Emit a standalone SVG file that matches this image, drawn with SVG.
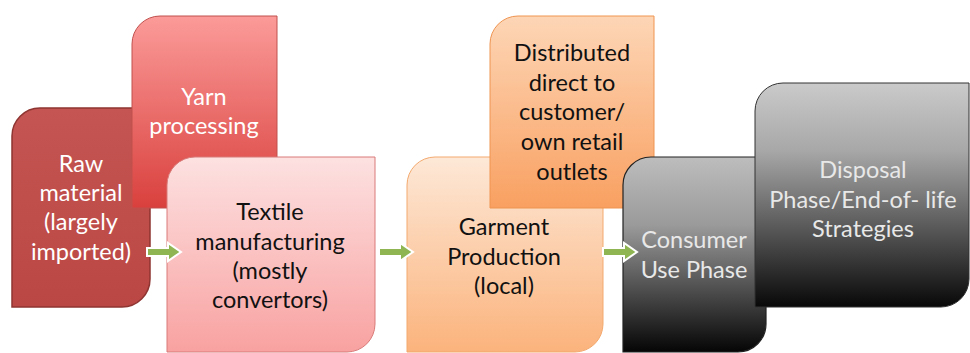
<svg xmlns="http://www.w3.org/2000/svg" width="970" height="353" viewBox="0 0 970 353">
<defs>
<linearGradient id="gRaw" x1="0" y1="0" x2="0" y2="1"><stop offset="0" stop-color="#c45552"/><stop offset="1" stop-color="#bb4744"/></linearGradient>
<linearGradient id="gYarn" x1="0" y1="0" x2="0" y2="1"><stop offset="0" stop-color="#fb9b99"/><stop offset="1" stop-color="#d9403d"/></linearGradient>
<linearGradient id="gTex" x1="0" y1="0" x2="0" y2="1"><stop offset="0" stop-color="#fde1e1"/><stop offset="1" stop-color="#f8a2a1"/></linearGradient>
<linearGradient id="gGar" x1="0" y1="0" x2="0" y2="1"><stop offset="0" stop-color="#fde8d7"/><stop offset="1" stop-color="#fbb37c"/></linearGradient>
<linearGradient id="gDis" x1="0" y1="0" x2="0" y2="1"><stop offset="0" stop-color="#fdd6b6"/><stop offset="1" stop-color="#f9a061"/></linearGradient>
<linearGradient id="gCon" x1="0" y1="0" x2="0" y2="1"><stop offset="0" stop-color="#bdbdbd"/><stop offset="0.35" stop-color="#9a9a9a"/><stop offset="1" stop-color="#050505"/></linearGradient>
<linearGradient id="gDisp" x1="0" y1="0" x2="0" y2="1"><stop offset="0" stop-color="#cacaca"/><stop offset="0.3" stop-color="#a8a8a8"/><stop offset="1" stop-color="#080808"/></linearGradient>
</defs>
<style>
.t{font-family:Lato,"Open Sans","Liberation Sans",sans-serif;font-size:23.5px;text-anchor:middle}
.w{fill:#ffffff}
.k{fill:#111111}
.g{fill:#e8e8e8}
.arrow{fill:#8fb553;stroke:#ffffff;stroke-width:2;stroke-linejoin:miter}
</style>
<rect width="970" height="353" fill="#ffffff"/>
<g id="raw">
<path d="M12 136 A28 28 0 0 1 40 108 H150 V279 A28 28 0 0 1 122 307 H12 Z" fill="url(#gRaw)" stroke="#8e3431" stroke-width="1.5"/>
<text class="t w" x="81" y="172">Raw</text>
<text class="t w" x="81" y="201">material</text>
<text class="t w" x="81" y="230">(largely</text>
<text class="t w" x="81" y="260">imported)</text>
</g>
<g id="yarn">
<path d="M132 44 A28 28 0 0 1 160 16 H277 V180 A28 28 0 0 1 249 208 H132 Z" fill="url(#gYarn)" stroke="#c0504d" stroke-width="1"/>
<text class="t w" x="204" y="105">Yarn</text>
<text class="t w" x="204" y="134">processing</text>
</g>
<g id="textile">
<path d="M167 185 A28 28 0 0 1 195 157 H375 V324 A28 28 0 0 1 347 352 H167 Z" fill="url(#gTex)" stroke="#d87b79" stroke-width="1"/>
<text class="t k" x="270" y="220">Textile</text>
<text class="t k" x="270" y="250">manufacturing</text>
<text class="t k" x="270" y="279">(mostly</text>
<text class="t k" x="270" y="308">convertors)</text>
</g>
<g id="garment">
<path d="M407 185 A28 28 0 0 1 435 157 H603 V324 A28 28 0 0 1 575 352 H407 Z" fill="url(#gGar)" stroke="#f3a96e" stroke-width="1"/>
<text class="t k" x="504" y="235">Garment</text>
<text class="t k" x="504" y="265">Production</text>
<text class="t k" x="504" y="294">(local)</text>
</g>
<g id="distributed">
<path d="M490 44 A28 28 0 0 1 518 16 H654 V180 A28 28 0 0 1 626 208 H490 Z" fill="url(#gDis)" stroke="#ef9450" stroke-width="1"/>
<text class="t k" x="572" y="61">Distributed</text>
<text class="t k" x="572" y="91">direct to</text>
<text class="t k" x="572" y="120">customer/</text>
<text class="t k" x="572" y="150">own retail</text>
<text class="t k" x="572" y="180">outlets</text>
</g>
<g id="consumer">
<path d="M623 185 A28 28 0 0 1 651 157 H766 V324 A28 28 0 0 1 738 352 H623 Z" fill="url(#gCon)" stroke="#222222" stroke-width="1.2"/>
<text class="t g" x="694" y="248">Consumer</text>
<text class="t g" x="694" y="278">Use Phase</text>
</g>
<g id="disposal">
<path d="M755 111 A28 28 0 0 1 783 83 H969 V279 A28 28 0 0 1 941 307 H755 Z" fill="url(#gDisp)" stroke="#333333" stroke-width="1"/>
<text class="t g" x="863" y="178">Disposal</text>
<text class="t g" x="863" y="208">Phase/End-of- life</text>
<text class="t g" x="863" y="237">Strategies</text>
</g>
<g id="connectors">
<path class="arrow" d="M147 248 H168 V243 L181 252 L168 261 V256 H147 Z"/>
<path class="arrow" d="M379 248 H400 V243 L413 252 L400 261 V256 H379 Z"/>
<path class="arrow" d="M603 248 H624 V243 L637 252 L624 261 V256 H603 Z"/>
</g>
</svg>
